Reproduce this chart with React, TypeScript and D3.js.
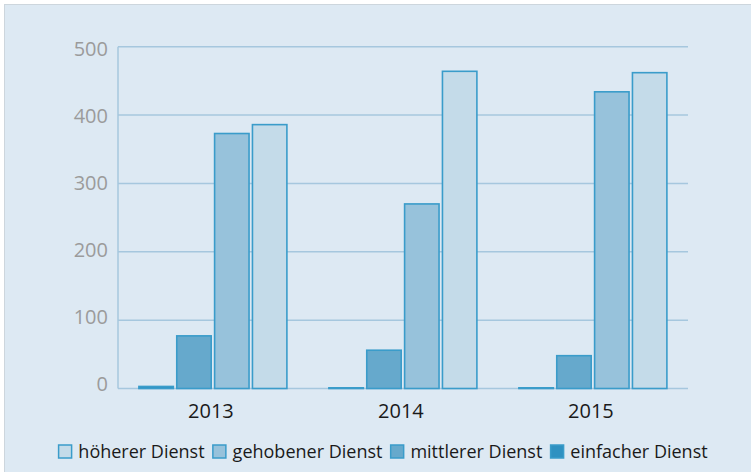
import React, { useRef, useEffect } from 'react';
import * as d3 from 'd3';

// values per year (2013, 2014, 2015)
const years = ['2013', '2014', '2015'];
const einfacher = [3, 1, 1];
const mittlerer = [77, 56, 48];
const gehobener = [373, 270, 434];
const hoeherer = [386, 464, 462];
const yTicks = [0, 100, 200, 300, 400, 500];

// bar order inside a group (left to right)
const barOrder = ['einfacher Dienst', 'mittlerer Dienst', 'gehobener Dienst', 'höherer Dienst'];
const legendOrder = ['höherer Dienst', 'gehobener Dienst', 'mittlerer Dienst', 'einfacher Dienst'];

const colors: Record<string, string> = {
  'höherer Dienst': '#c4dbe9',
  'gehobener Dienst': '#97c2db',
  'mittlerer Dienst': '#66a9cc',
  'einfacher Dienst': '#2f91c1',
};

const W = 751;
const H = 472;
const FONT = '"Open Sans", sans-serif';

const App = () => {
  const svgRef = useRef<SVGSVGElement>(null);

  useEffect(() => {
    const svg = d3.select(svgRef.current);
    svg.selectAll('*').remove();

    const values: Record<string, number[]> = {
      'einfacher Dienst': einfacher,
      'mittlerer Dienst': mittlerer,
      'gehobener Dienst': gehobener,
      'höherer Dienst': hoeherer,
    };

    // panel background
    svg.append('rect')
       .attr('x', 4.5).attr('y', 4.5)
       .attr('width', W - 4).attr('height', H - 4)
       .attr('fill', '#dde9f3')
       .attr('stroke', '#cdd6dd');

    const left = 118, right = 688, top = 46.7, bottom = 388.5;

    const y = d3.scaleLinear().domain([0, 500]).range([bottom, top]);
    // label centres sit slightly tighter than the grid
    const yLabel = d3.scaleLinear().domain([0, 500]).range([bottom - 5, top + 2.5]);

    const x0 = d3.scaleBand()
                 .domain(years)
                 .range([left, right])
                 .paddingInner(0.2)
                 .paddingOuter(0.1)
                 .align(0.55);

    const x1 = d3.scaleBand()
                 .domain(barOrder)
                 .range([0, x0.bandwidth() - 4])
                 .paddingInner(0.09);

    // grid lines
    svg.append('g')
       .selectAll('line')
       .data(yTicks)
       .join('line')
       .attr('x1', left).attr('x2', right)
       .attr('y1', d => y(d)).attr('y2', d => y(d))
       .attr('stroke', '#a6c7de')
       .attr('stroke-width', 1.5);

    // y axis line
    svg.append('line')
       .attr('x1', left).attr('x2', left)
       .attr('y1', top).attr('y2', bottom)
       .attr('stroke', '#a6c7de')
       .attr('stroke-width', 1.5);

    // y tick labels
    svg.append('g')
       .selectAll('text')
       .data(yTicks)
       .join('text')
       .attr('x', 108)
       .attr('y', d => yLabel(d))
       .attr('dy', '0.36em')
       .attr('text-anchor', 'end')
       .attr('font-family', FONT)
       .attr('font-size', 20)
       .attr('fill', '#9b9b9b')
       .text(d => d);

    // bars
    const groups = svg.append('g')
       .selectAll('g')
       .data(years)
       .join('g')
       .attr('transform', d => `translate(${x0(d)},0)`);

    groups.selectAll('rect')
       .data((d, i) => barOrder.map(k => ({ key: k, value: values[k][i] })))
       .join('rect')
       .attr('x', d => x1(d.key)!)
       .attr('y', d => y(d.value))
       .attr('width', x1.bandwidth())
       .attr('height', d => bottom - y(d.value))
       .attr('fill', d => colors[d.key])
       .attr('stroke', '#3a9cca')
       .attr('stroke-width', 1.6);

    // x labels
    svg.append('g')
       .selectAll('text')
       .data(years)
       .join('text')
       .attr('x', d => x0(d)! + x0.bandwidth() / 2 - 4)
       .attr('y', 418)
       .attr('text-anchor', 'middle')
       .attr('font-family', FONT)
       .attr('font-size', 20)
       .attr('fill', '#1a1a1a')
       .text(d => d);

    // legend
    const legend = svg.append('g');
    let cx = 0;
    legendOrder.forEach(name => {
      legend.append('rect')
            .attr('x', cx + 0.75).attr('y', 445)
            .attr('width', 13).attr('height', 13)
            .attr('fill', colors[name])
            .attr('stroke', '#3a9cca')
            .attr('stroke-width', 1.5);
      const t = legend.append('text')
            .attr('x', cx + 20.5)
            .attr('y', 458)
            .attr('font-family', FONT)
            .attr('font-size', 18)
            .attr('fill', '#1a1a1a')
            .text(name);
      const w = (t.node() as SVGTextElement).getComputedTextLength();
      cx += 20.5 + w + 7.5;
    });
    const total = cx - 7.5;
    legend.attr('transform', `translate(${(52.5 + 713 - total) / 2},0)`);
  }, []);

  return (
    <svg
      ref={svgRef}
      width={W}
      height={H}
      style={{ position: 'absolute', left: 0, top: 0 }}
    />
  );
};

export default App;
